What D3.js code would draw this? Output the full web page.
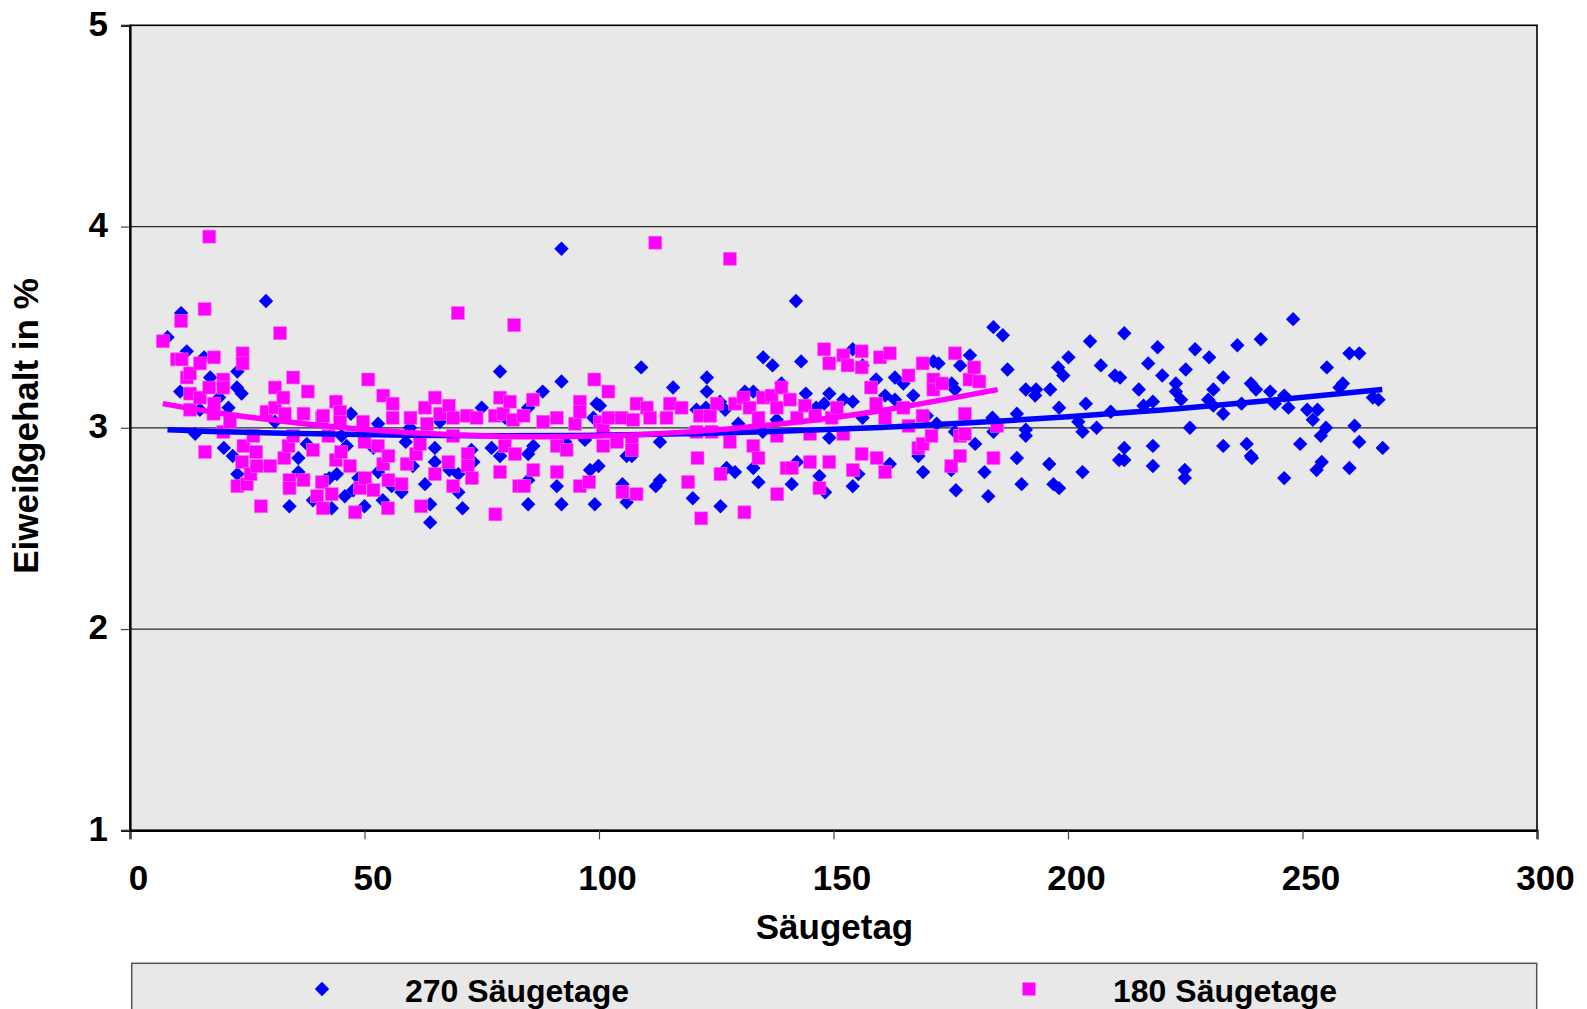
<!DOCTYPE html>
<html>
<head>
<meta charset="utf-8">
<script src="https://cdn.jsdelivr.net/npm/d3@7"></script>
<style>
  html, body { margin: 0; padding: 0; background: #ffffff; }
  svg { display: block; }
  text { font-family: "Liberation Sans", Arial, Helvetica, sans-serif; font-weight: bold; fill: #000; }
</style>
</head>
<body>
<svg id="chart" width="1587" height="1009"></svg>
<script>
// ---------- DATA ----------
const xTicks = [0, 50, 100, 150, 200, 250, 300];
const yTicks = [1, 2, 3, 4, 5];
const xTitle = "Säugetag";
const yTitle = "Eiweißgehalt in %";
const seriesNames = ["270 Säugetage", "180 Säugetage"];

// [Säugetag, Eiweißgehalt]  – series "270 Säugetage" (blue diamonds)
const series270 = [
  [8.0,3.45],[10.7,3.18],[10.9,3.57],[12.1,3.38],[13.9,2.97],[14.9,3.09],[15.8,3.35],[17.1,3.25],
  [19.0,3.15],[20.0,2.90],[21.0,3.10],[21.9,2.86],[22.8,3.20],[22.9,3.28],[22.9,2.77],[23.8,3.17],
  [29.0,3.63],[30.9,3.03],[34.0,2.61],[35.9,2.85],[35.9,2.78],[37.7,2.92],[39.0,2.64],[41.6,2.74],
  [42.5,2.75],[43.0,2.60],[44.1,2.77],[45.1,2.96],[45.8,2.66],[46.2,2.91],[47.1,3.07],[47.6,2.69],
  [48.7,2.75],[50.0,2.61],[51.9,2.90],[52.9,3.02],[52.9,2.78],[53.9,2.64],[55.8,2.71],[57.9,2.68],
  [58.8,2.93],[59.7,3.00],[60.3,2.81],[62.9,2.72],[64.0,2.62],[64.0,2.53],[65.0,2.90],[65.0,2.83],
  [66.1,3.03],[68.1,2.79],[70.0,2.77],[70.0,2.68],[70.9,2.60],[72.8,2.89],[73.2,2.83],[75.0,3.10],
  [77.1,2.90],[78.9,3.28],[78.9,2.86],[80.0,3.05],
  [84.9,3.10],[84.9,2.87],[84.9,2.74],[84.9,2.62],[86.0,2.91],[88.0,3.18],[91.0,2.71],[92.0,3.23],
  [92.0,3.89],[92.0,2.62],[92.8,2.93],[97.0,2.94],[98.1,2.79],[98.8,3.05],[99.1,2.62],[99.5,3.12],
  [99.9,2.81],[100.2,3.11],[105.0,2.72],[105.9,2.86],[105.9,2.63],[107.0,2.86],[109.0,3.30],[112.1,2.71],
  [113.0,2.93],[113.0,2.74],[115.8,3.20],[120.0,2.65],[120.8,3.09],[123.0,3.25],[123.0,3.18],
  [122.8,3.10],[125.8,3.13],[125.9,2.61],[126.9,3.09],[127.2,2.80],[129.0,2.78],[129.7,3.02],[131.1,3.18],
  [132.9,3.18],[132.9,2.80],[134.0,2.73],[134.9,2.98],[135.0,3.35],[137.0,3.31],[137.9,3.04],[138.9,3.22],
  [141.1,2.72],[142.0,3.63],[142.2,2.83],[143.1,3.33],[144.1,3.17],[146.3,3.10],[147.0,2.76],[148.0,3.12],
  [148.2,2.68],[149.1,3.17],[149.1,2.95],[152.1,3.14],[154.1,3.39],[154.1,3.13],[154.1,2.71],[155.3,2.77],
  [156.2,3.31],[156.2,3.05],[159.1,3.24],[161.0,3.16],[162.0,2.82],[163.1,3.25],[163.1,3.14],
  [164.9,3.22],[167.0,3.16],[168.1,2.86],[169.1,2.78],[169.9,3.06],[171.3,3.33],[172.0,3.02],[172.4,3.32],
  [175.1,2.79],[175.2,3.22],[175.9,3.19],[175.9,2.98],[176.1,2.69],[177.0,3.31],[179.1,3.36],[180.2,2.92],
  [182.2,2.78],[183.0,2.66],[183.9,3.05],[184.1,3.50],[184.1,2.98],[186.1,3.46],[187.1,3.29],[189.1,3.07],
  [189.1,2.85],[190.1,2.72],[191.0,3.19],[191.0,2.99],[191.0,2.96],[193.0,3.16],[193.2,3.19],[196.0,2.82],
  [196.2,3.19],[196.9,2.72],[197.9,3.30],[198.1,3.10],[198.1,2.70],[199.0,3.26],[200.1,3.35],[202.2,3.03],
  [203.1,2.98],[203.1,2.78],[203.8,3.12],[204.7,3.43],
  [206.1,3.00],[207.0,3.31],[209.1,3.08],[210.0,3.26],[210.9,2.84],[211.1,3.25],[212.0,3.47],[212.0,2.90],
  [212.0,2.84],[215.1,3.19],[216.1,3.11],[217.1,3.32],[218.1,3.13],[218.1,2.91],[218.1,2.81],[219.1,3.40],
  [220.1,3.26],[223.0,3.22],[223.0,3.18],[224.1,3.14],[224.9,2.79],[224.9,2.75],[225.1,3.29],[226.0,3.00],
  [227.1,3.39],[229.9,3.14],[230.1,3.35],[231.0,3.19],[231.0,3.11],[233.1,3.25],[233.1,3.07],[233.1,2.91],
  [236.1,3.41],[237.0,3.12],[238.1,2.92],[239.0,3.22],[239.0,2.86],[239.2,2.85],[240.1,3.19],[241.1,3.44],
  [243.1,3.18],[244.1,3.12],[246.1,3.16],[246.1,2.75],[247.0,3.10],[248.0,3.54],
  [249.5,2.92],[251.0,3.09],[252.2,3.04],[253.0,2.79],[253.2,3.09],[253.9,2.96],[254.1,2.83],[255.0,3.00],
  [255.2,3.30],[257.9,3.20],[258.6,3.22],[260.0,3.37],[260.0,2.80],[261.1,3.01],[262.1,3.37],[262.1,2.93],
  [265.0,3.15],[266.2,3.14],[267.1,2.90]
];

// [Säugetag, Eiweißgehalt]  – series "180 Säugetage" (magenta squares)
const series180 = [
  [7.0,3.43],[10.0,3.34],[10.9,3.53],[11.0,3.34],[12.1,3.25],[12.8,3.27],[12.8,3.17],[12.8,3.09],
  [14.9,3.32],[14.9,3.15],[15.9,3.59],[16.0,2.88],[16.9,3.95],[16.9,3.20],[17.8,3.07],[17.9,3.35],
  [17.9,3.12],[19.9,3.24],[19.9,3.20],[19.9,2.98],[21.3,3.03],[22.9,2.71],[23.9,2.83],[24.0,3.37],
  [24.0,3.32],[24.2,2.91],[24.9,2.72],[25.7,2.77],[26.3,2.96],[26.9,2.88],[27.0,2.81],[27.9,2.61],
  [29.1,3.08],[29.9,2.81],[30.9,3.20],[30.9,3.10],[32.0,3.47],[32.7,3.15],[32.9,2.85],[33.0,3.07],
  [33.8,2.91],[34.0,2.74],[34.0,2.70],[34.8,3.25],[34.8,2.96],[37.0,3.07],[37.0,2.74],[37.9,3.18],
  [39.0,2.89],[39.9,2.66],[40.9,3.05],[40.9,2.73],[41.1,2.60],
  [41.2,3.06],[42.3,2.96],[43.0,2.67],[43.9,3.13],[43.9,2.84],[44.8,3.08],[44.8,3.03],[45.0,2.88],
  [46.9,2.81],[48.0,2.58],[49.0,2.70],[49.7,3.03],[50.0,2.93],[50.1,2.75],[50.8,3.24],[51.9,2.69],
  [52.9,2.91],[54.0,3.16],[54.0,2.82],[55.0,2.60],[55.1,2.86],[55.1,2.74],[56.0,3.12],[56.0,3.05],
  [57.9,2.72],[59.0,2.82],[59.8,3.05],[61.0,2.87],[61.8,2.92],[62.0,2.61],[62.9,3.10],[63.3,3.02],
  [65.0,3.15],[65.0,2.77],[66.1,3.07],[67.9,2.83],[68.0,3.11],[68.9,3.05],[68.9,2.96],[68.9,2.71],
  [69.9,3.57],[71.8,3.06],[72.0,2.87],[72.0,2.81],[72.9,2.75],[73.9,3.05],[77.8,3.06],[77.9,2.57],
  [78.9,3.15],[78.9,2.78],[79.6,3.07],[79.9,2.91],[81.0,3.13],[81.7,3.04],[81.9,3.51],[82.1,2.87],
  [83.0,2.71],
  [83.9,3.06],[84.0,2.71],[85.9,3.14],[86.0,2.79],[88.1,3.03],[91.0,3.05],[91.0,2.91],[91.0,2.78],
  [93.1,2.89],[94.9,3.02],[95.9,3.13],[95.9,3.08],[95.9,2.71],[97.9,2.73],[99.0,3.24],[100.2,3.03],
  [100.9,2.99],[100.9,2.91],[102.0,3.18],[102.0,3.05],[103.8,2.93],[104.8,3.05],[105.0,2.68],[107.0,2.92],
  [107.0,2.89],[107.3,3.04],[108.0,3.12],[108.0,2.67],[110.2,3.10],[110.9,3.05],[112.0,3.92],[114.4,3.05],
  [115.1,3.12],[117.6,3.10],[119.0,2.73],[120.8,2.98],[121.0,2.85],[121.8,2.55],[121.5,3.06],
  [123.7,3.06],[124.0,2.98],[125.1,3.12],[125.9,2.77],[127.9,3.84],[127.9,2.93],[129.0,3.12],[130.8,3.15],
  [131.0,2.58],[132.1,3.10],[132.9,2.91],[134.0,3.05],[134.0,2.85],[135.0,3.15],[136.8,3.16],[137.9,3.10],
  [137.9,2.96],[138.0,2.67],[138.9,3.20],[140.0,2.80],[140.7,3.14],[141.1,2.80],[142.2,3.05],[143.9,3.11],
  [145.0,2.97],[145.0,2.83],[146.1,3.06],[147.0,2.70],[148.0,3.39],[149.1,3.32],[149.1,2.83],[149.6,3.05],
  [150.7,3.10],[152.1,3.36],[152.1,2.97],[153.0,3.31],[154.1,2.79],[156.0,3.38],[156.0,3.30],[156.0,2.87],
  [158.0,3.20],[159.1,3.12],[159.2,2.85],[159.9,3.35],[161.0,3.05],[161.0,2.78],[162.0,3.37],
  [164.9,3.10],[166.0,3.26],[166.0,3.01],[168.1,2.90],[169.0,3.32],[169.0,3.06],[169.0,2.92],[170.9,2.96],
  [171.3,3.24],[171.3,3.19],[173.1,3.22],[175.1,2.81],[175.9,3.37],[177.0,2.96],[177.0,2.86],[178.0,3.07],
  [178.0,2.97],[179.0,3.24],[180.0,3.30],[181.1,3.23],[184.1,2.85],[184.9,3.01]
];

// trend lines (polynomial trendlines)
const trend270 = [[8,2.99],[20,2.98],[40,2.97],[60,2.963],[80,2.96],[100,2.963],[120,2.971],[140,2.984],
  [160,3.002],[180,3.026],[200,3.055],[220,3.089],[240,3.129],[267,3.19]];
const trend180 = [[7,3.12],[20,3.07],[40,3.013],[60,2.975],[80,2.957],[100,2.959],[120,2.981],
  [140,3.023],[160,3.085],[185,3.19]];

// ---------- LAYOUT ----------
const svg = d3.select("#chart");
const plot = { left: 130, right: 1537, top: 25.3, bottom: 830.3 };
const x = d3.scaleLinear().domain([0, 300]).range([plot.left, plot.right]);
const y = d3.scaleLinear().domain([1, 5]).range([plot.bottom, plot.top]);

const blue = "#0000FF", magenta = "#FF00FF", plotBg = "#E8E8E8";

// plot background
svg.append("rect")
  .attr("x", plot.left).attr("y", plot.top)
  .attr("width", plot.right - plot.left).attr("height", plot.bottom - plot.top)
  .attr("fill", plotBg);

// gridlines
svg.append("g").selectAll("line").data(yTicks.filter(t => t > 1 && t < 5)).join("line")
  .attr("x1", plot.left).attr("x2", plot.right)
  .attr("y1", d => y(d)).attr("y2", d => y(d))
  .attr("stroke", "#2a2a2a").attr("stroke-width", 1.2);

// plot border
svg.append("rect")
  .attr("x", plot.left).attr("y", plot.top)
  .attr("width", plot.right - plot.left).attr("height", plot.bottom - plot.top)
  .attr("fill", "none").attr("stroke", "#000").attr("stroke-width", 1.6);

// axes
const xAxis = d3.axisBottom(x).tickValues(xTicks).tickSize(9).tickFormat(d3.format("d"));
const gx = svg.append("g").attr("transform", `translate(0,${plot.bottom})`).call(xAxis);
gx.select(".domain").attr("stroke", "#000").attr("stroke-width", 2.2);
gx.selectAll(".tick line").attr("stroke", "#444").attr("stroke-width", 1.2);
gx.selectAll(".tick text")
  .attr("font-size", 35).attr("font-weight", "bold").attr("fill", "#000")
  .attr("font-family", '"Liberation Sans", Arial, sans-serif')
  .attr("dx", 8).attr("y", 0).attr("dy", 0)
  .attr("transform", "translate(0,60)");

const yAxis = d3.axisLeft(y).tickValues(yTicks).tickSize(9).tickFormat(d3.format("d"));
const gy = svg.append("g").attr("transform", `translate(${plot.left},0)`).call(yAxis);
gy.select(".domain").attr("stroke", "#000").attr("stroke-width", 2.2);
gy.selectAll(".tick line").attr("stroke", "#444").attr("stroke-width", 1.2);
gy.selectAll(".tick text")
  .attr("font-size", 35).attr("font-weight", "bold").attr("fill", "#000")
  .attr("font-family", '"Liberation Sans", Arial, sans-serif')
  .attr("x", -22).attr("dy", "0.28em");

// axis titles
svg.append("text")
  .attr("x", (plot.left + plot.right) / 2 + 1).attr("y", 939)
  .attr("text-anchor", "middle").attr("font-size", 35)
  .text(xTitle);

svg.append("text")
  .attr("transform", `translate(38,426) rotate(-90)`)
  .attr("text-anchor", "middle").attr("font-size", 35)
  .text(yTitle);

// markers
const diamond = r => `M0,${-r}L${r},0L0,${r}L${-r},0Z`;
const clipId = "plotclip";
svg.append("clipPath").attr("id", clipId).append("rect")
  .attr("x", plot.left).attr("y", plot.top)
  .attr("width", plot.right - plot.left).attr("height", plot.bottom - plot.top);

const gPts = svg.append("g").attr("clip-path", `url(#${clipId})`);
gPts.append("g").selectAll("path").data(series270).join("path")
  .attr("d", diamond(7.2))
  .attr("transform", d => `translate(${x(d[0])},${y(d[1])})`)
  .attr("fill", blue);

const sq = 13;
gPts.append("g").selectAll("rect").data(series180).join("rect")
  .attr("x", d => x(d[0]) - sq / 2).attr("y", d => y(d[1]) - sq / 2)
  .attr("width", sq).attr("height", sq)
  .attr("fill", magenta).attr("stroke", "#ff66ff").attr("stroke-width", 0.6);

// trend lines
const line = d3.line().x(d => x(d[0])).y(d => y(d[1])).curve(d3.curveNatural);
gPts.append("path").datum(trend270).attr("d", line)
  .attr("fill", "none").attr("stroke", blue).attr("stroke-width", 5.5);
gPts.append("path").datum(trend180).attr("d", line)
  .attr("fill", "none").attr("stroke", magenta).attr("stroke-width", 5.5);

// legend
const lg = svg.append("g");
lg.append("rect")
  .attr("x", 131.7).attr("y", 963.3).attr("width", 1405).attr("height", 70)
  .attr("fill", plotBg).attr("stroke", "#555").attr("stroke-width", 1.5);
lg.append("path").attr("d", diamond(7.2))
  .attr("transform", "translate(322,989)").attr("fill", blue);
lg.append("text").attr("x", 405).attr("y", 1002).attr("font-size", 32).text(seriesNames[0]);
lg.append("rect").attr("x", 1029 - sq / 2).attr("y", 989 - sq / 2)
  .attr("width", sq).attr("height", sq).attr("fill", magenta);
lg.append("text").attr("x", 1113).attr("y", 1002).attr("font-size", 32).text(seriesNames[1]);
</script>
</body>
</html>
